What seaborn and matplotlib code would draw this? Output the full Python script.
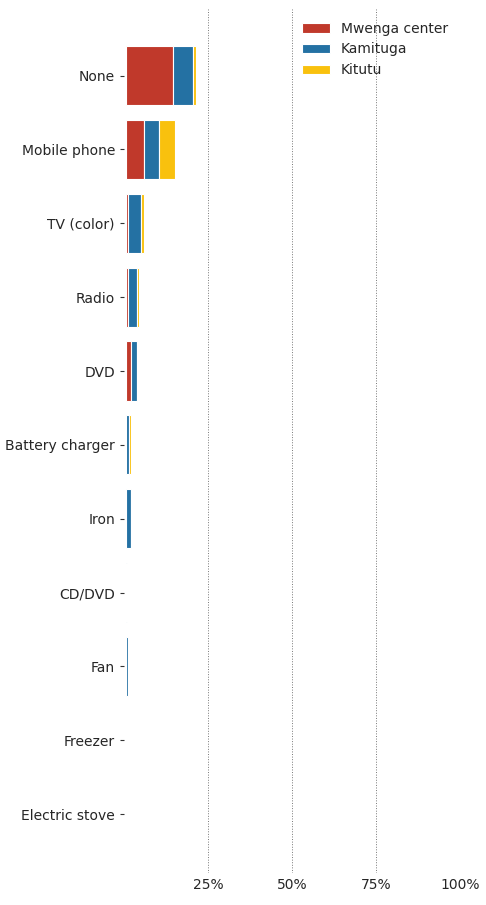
import matplotlib
matplotlib.use("Agg")
import matplotlib.pyplot as plt
import seaborn as sns
import numpy as np

categories = ["None", "Mobile phone", "TV (color)", "Radio", "DVD", "Battery charger",
              "Iron", "CD/DVD", "Fan", "Freezer", "Electric stove"]
mwenga = [14.0, 5.5, 0.6, 0.6, 1.6, 0.0, 0.0, 0.2, 0.0, 0.0, 0.0]
kamituga = [6.0, 4.5, 3.9, 2.7, 1.8, 0.9, 1.5, 0.2, 0.6, 0.0, 0.0]
kitutu = [1.0, 4.8, 1.0, 0.6, 0.0, 0.6, 0.0, 0.0, 0.0, 0.0, 0.0]
series = ["Mwenga center", "Kamituga", "Kitutu"]
colors = ["#c0392b", "#2471a3", "#f9c10e"]
xticks = [25, 50, 75, 100]
xticklabels = ["25%", "50%", "75%", "100%"]

sns.set_style("white")
fig, ax = plt.subplots(figsize=(4.86, 9.05), dpi=100)
y = np.arange(len(categories))
left = np.zeros(len(categories))
for name, vals, c in zip(series, [mwenga, kamituga, kitutu], colors):
    vals = np.array(vals)
    ax.barh(y, vals, left=left + 0.5, height=0.8, color=c, edgecolor="white", linewidth=0.8, label=name)
    left += vals
ax.set_yticks(y)
ax.set_yticklabels(categories, fontsize=10)
ax.set_xticks(xticks)
ax.set_xticklabels(xticklabels, fontsize=10)
ax.set_xlim(0, 100)
ax.set_ylim(len(categories) - 0.2, -0.9)
ax.tick_params(axis="y", length=3, left=True, color="#333333")
ax.tick_params(axis="x", length=0)
ax.xaxis.grid(True, linestyle=":", color="#777777", linewidth=0.7)
for s in ax.spines.values():
    s.set_visible(False)
ax.legend(loc="upper right", frameon=False, fontsize=10)
fig.subplots_adjust(left=0.255, right=0.947, top=0.99, bottom=0.035)
fig.savefig("out.png", dpi=100)
